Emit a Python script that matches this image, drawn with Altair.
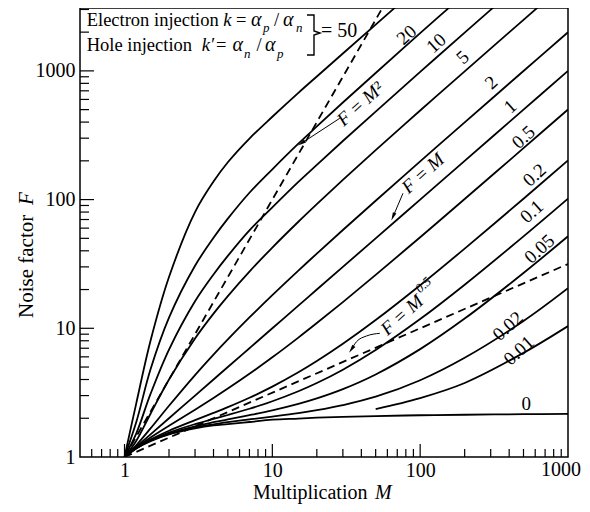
import altair as alt
import pandas as pd

SERIF = "Liberation Serif"

# ---------------- data ----------------
M_vals = [1, 1.2, 1.5, 2, 3, 4, 5, 7, 10, 15, 20, 30, 50, 100, 200, 500, 1000]

F_k0    = [1, 1.17, 1.33, 1.5, 1.67, 1.76, 1.8, 1.87, 1.95, 1.99, 2.02, 2.05, 2.08, 2.11, 2.13, 2.15, 2.16]
F_k0_01 = [None, None, None, None, None, None, None, None, None, None, None, None,
           2.36, 2.87, 3.76, 6.44, 10.4]
F_k0_02 = [1, 1.167, 1.337, 1.51, 1.693, 1.795, 1.864, 1.96, 2.06, 2.19, 2.31, 2.53, 2.94, 3.95, 5.9, 11.4, 20.5]
F_k0_05 = [1, 1.168, 1.342, 1.525, 1.733, 1.863, 1.96, 2.114, 2.305, 2.587, 2.853, 3.368, 4.38, 6.89, 11.9, 26.9, 51.9]
F_k0_1  = [1, 1.17, 1.35, 1.55, 1.8, 1.975, 2.12, 2.371, 2.71, 3.24, 3.755, 4.77, 6.78, 11.79, 21.8, 51.8, 101.8]
F_k0_2  = [1, 1.173, 1.367, 1.6, 1.933, 2.2, 2.44, 2.886, 3.52, 4.547, 5.56, 7.573, 11.58, 21.59, 41.6, 101.6, 201.6]
F_k0_5  = [1, 1.183, 1.417, 1.75, 2.333, 2.875, 3.4, 4.429, 5.95, 8.467, 10.98, 15.98, 25.99, 51.0, 101.0, 251.0, 501.0]
F_k1    = [1, 1.2, 1.5, 2, 3, 4, 5, 7, 10, 15, 20, 30, 50, 100, 200, 500, 1000]
F_k2    = [1, 1.233, 1.667, 2.5, 4.333, 6.25, 8.2, 12.14, 18.1, 28.07, 38.05, 58.03, 98.02, 198.0, 398.0, 998.0, 1998.0]
F_k5    = [1, 1.333, 2.167, 4.0, 8.333, 13.0, 17.8, 27.57, 42.4, 67.27, 92.2, 142.1, 242.1, 492.0, 992.0, 2492.0, 4992.0]
F_k10   = [1, 1.52, 3.09, 6.83, 16.2, 26.2, 36.5, 57.6, 87.0, 137.2, 186.1, 285.1, 482.2, 982.1, 1982.0, 4982.0, None]
F_k20   = [1, 1.86, 4.8, 12.1, 30.6, 50.5, 71.1, 113.0, 172.0, 272.0, 370.0, 568.0, 962.4, 1962.2, 3962.0, None, None]
F_k50   = [1, 2.6, 8.0, 25.0, 80.0, 138.0, 195.0, 298.0, 440.0, 675.0, 905.0, 1365.0, 2290.0, 4600.0, None, None, None]

k_names = ["0", "0.01", "0.02", "0.05", "0.1", "0.2", "0.5", "1", "2", "5", "10", "20", "50"]
k_series = [F_k0, F_k0_01, F_k0_02, F_k0_05, F_k0_1, F_k0_2, F_k0_5, F_k1, F_k2, F_k5, F_k10, F_k20, F_k50]

# dashed reference lines F = M^2 and F = M^0.5 (end points)
ref_names = ["M2", "M2", "M05", "M05"]
ref_M = [1, 60, 1, 1000]
ref_F = [1, 3600, 1, 31.6]

# curve labels (text, M, F)
lab_text = ["20", "10", "5", "2", "1", "0.5", "0.2", "0.1", "0.05", "0.02", "0.01"]
lab_M = [81, 128.6, 194.5, 303, 407, 500, 594, 569, 642, 392, 465]
lab_F = [1900, 1638, 1276, 809, 527, 305, 155, 80.5, 41.3, 10.4, 6.7]

# axis ticks
x_major = [1, 10, 100]
x_minor = [0.6, 0.7, 0.8, 0.9, 2, 3, 4, 5, 6, 7, 8, 9, 20, 30, 40, 50, 60, 70, 80, 90,
           200, 300, 400, 500, 600, 700, 800, 900]
y_major = [10, 100, 1000]
y_minor = [2, 3, 4, 5, 6, 7, 8, 9, 20, 30, 40, 50, 60, 70, 80, 90,
           200, 300, 400, 500, 600, 700, 800, 900, 2000, 3000]
x_tick_labels = [1, 10, 100]
x_last_label = [1000]
y_tick_labels = [1, 10, 100, 1000]

# arrows (M, F)
arr_id = ["a", "a", "b", "b", "c", "c", "c", "c"]
arr_ord = [0, 1, 0, 1, 0, 1, 2, 3]
arr_M = [28.6, 15.75, 76.5, 65.5, 53.3, 43.3, 37.1, 34.3]
arr_F = [428.5, 273.8, 111.9, 73.6, 9.14, 8.71, 7.87, 6.87]

# ---------------- chart ----------------
W, H = 488, 449
xs = alt.Scale(type="log", domain=[0.5, 1000], nice=False)
ys = alt.Scale(type="log", domain=[1, 3080], nice=False)
xax = alt.Axis(values=x_tick_labels, format="d", labelFont=SERIF, labelFontSize=20,
               labelColor="black", ticks=False, tickSize=0, domain=False, grid=False,
               title=None, labelPadding=3, labelFlush=False, labelOverlap=False)
yax = alt.Axis(values=y_tick_labels, format="d", labelFont=SERIF, labelFontSize=20,
               labelColor="black", ticks=False, tickSize=0, domain=False, grid=False,
               title=None, labelPadding=5, labelOverlap=False)

rows = []
for name, ser in zip(k_names, k_series):
    for m, f in zip(M_vals, ser):
        if f is not None:
            rows.append({"k": name, "M": m, "F": f})
curves_df = pd.DataFrame(rows)

curves = alt.Chart(curves_df).mark_line(
    color="black", strokeWidth=1.8, interpolate="catmull-rom", clip=True
).encode(
    x=alt.X("M:Q", scale=xs, axis=xax),
    y=alt.Y("F:Q", scale=ys, axis=yax),
    detail="k:N",
)

ref_df = pd.DataFrame({"s": ref_names, "M": ref_M, "F": ref_F})
dashed = alt.Chart(ref_df).mark_line(
    color="black", strokeWidth=1.8, strokeDash=[8, 5], clip=True
).encode(
    x=alt.X("M:Q", scale=xs, axis=xax),
    y=alt.Y("F:Q", scale=ys, axis=yax),
    detail="s:N",
)


def xticks(vals, length):
    return alt.Chart(pd.DataFrame({"M": vals})).mark_rule(color="black", strokeWidth=1.2).encode(
        x=alt.X("M:Q", scale=xs, axis=xax), y=alt.value(H), y2=alt.value(H - length))


def yticks(vals, length):
    return alt.Chart(pd.DataFrame({"F": vals})).mark_rule(color="black", strokeWidth=1.2).encode(
        y=alt.Y("F:Q", scale=ys, axis=yax), x=alt.value(0), x2=alt.value(length))


lab_df = pd.DataFrame({"t": lab_text, "M": lab_M, "F": lab_F})
labels = alt.Chart(lab_df).mark_text(
    font=SERIF, fontSize=19, angle=318, align="center", baseline="middle", color="black"
).encode(
    x=alt.X("M:Q", scale=xs, axis=xax), y=alt.Y("F:Q", scale=ys, axis=yax), text="t:N"
)

last_lab = alt.Chart(pd.DataFrame({"M": x_last_label, "t": ["1000"]})).mark_text(
    font=SERIF, fontSize=20, align="center", baseline="top", dx=-7, color="black"
).encode(x=alt.X("M:Q", scale=xs, axis=xax), y=alt.value(H + 3), text="t:N")


def dtext(s, m, f, size=19, italic=True, angle=318, dx=0, dy=0, align="center"):
    return alt.Chart(pd.DataFrame({"M": [m], "F": [f]})).mark_text(
        text=s, font=SERIF, fontSize=size, fontStyle="italic" if italic else "normal",
        angle=angle, align=align, baseline="middle", dx=dx, dy=dy, color="black"
    ).encode(x=alt.X("M:Q", scale=xs, axis=xax), y=alt.Y("F:Q", scale=ys, axis=yax))


dummy = alt.Data(values=[{"a": 1}])


def ptext(s, x, y, size=19, italic=False, angle=0, align="left"):
    return alt.Chart(dummy).mark_text(
        text=s, font=SERIF, fontSize=size, fontStyle="italic" if italic else "normal",
        angle=angle, align=align, baseline="alphabetic", color="black"
    ).encode(x=alt.value(x), y=alt.value(y))


arr_df = pd.DataFrame({"id": arr_id, "o": arr_ord, "M": arr_M, "F": arr_F})
arrows = alt.Chart(arr_df).mark_line(color="black", strokeWidth=1, interpolate="monotone").encode(
    x=alt.X("M:Q", scale=xs, axis=xax), y=alt.Y("F:Q", scale=ys, axis=yax),
    detail="id:N", order="o:Q")

HEAD = "M0,-1L0.45,1L-0.45,1Z"


def head(m, f, ang):
    return alt.Chart(pd.DataFrame({"M": [m], "F": [f]})).mark_point(
        shape=HEAD, filled=True, color="black", size=70, angle=ang, opacity=1
    ).encode(x=alt.X("M:Q", scale=xs, axis=xax), y=alt.Y("F:Q", scale=ys, axis=yax))


brace = alt.Chart(dummy).mark_point(
    shape="M-0.35,-1L0,-1L0,-0.2L0.3,-0.1L0,0L0,1L-0.35,1", filled=False,
    color="black", strokeWidth=1.4, size=1600, opacity=1
).encode(x=alt.value(234), y=alt.value(27))

LF = 18.5
layers = [
    xticks(x_minor, 8), xticks(x_major, 13), yticks(y_minor, 9), yticks(y_major, 14),
    curves, dashed, labels, last_lab,
    dtext("0", 522, 2.58, angle=0, italic=False),
    dtext("F = M\u00b2", 39.4, 553),
    dtext("F = M", 104.5, 160),
    dtext("F = M", 83.6, 14.1, align="left", dx=-34),
    dtext("0.5", 83.6, 14.1, size=13, align="left", dx=19, dy=-8),
    arrows,
    head(15.75, 273.8, 237), head(65.5, 73.6, 203), head(34.3, 6.87, 215),
    # legend box text
    ptext("Electron injection", 6.7, 17.5, size=LF),
    ptext("k", 143.3, 17.5, size=LF, italic=True),
    ptext("=", 156, 17.5, size=LF),
    ptext("\u03b1", 171, 17.5, size=20, italic=True),
    ptext("p", 183, 24, size=13, italic=True),
    ptext("/", 194, 17.5, size=LF),
    ptext("\u03b1", 203, 17.5, size=20, italic=True),
    ptext("n", 216, 24, size=13, italic=True),
    ptext("Hole injection", 6.7, 43.3, size=LF),
    ptext("k\u2032", 121.7, 43.3, size=LF, italic=True),
    ptext("=", 136, 43.3, size=LF),
    ptext("\u03b1", 152.5, 43.3, size=20, italic=True),
    ptext("n", 164, 49.8, size=13, italic=True),
    ptext("/", 176.5, 43.3, size=LF),
    ptext("\u03b1", 185, 43.3, size=20, italic=True),
    ptext("p", 197, 49.8, size=13, italic=True),
    brace,
    ptext("= 50", 241, 29.3, size=20),
    # axis titles
    ptext("Multiplication", 173, 491, size=20),
    ptext("M", 295, 491, size=20, italic=True),
    ptext("Noise factor", -47, 310, size=21, angle=270),
    ptext("F", -47, 197, size=21, angle=270, italic=True),
]

chart = alt.layer(*layers).properties(
    width=W, height=H,
    autosize=alt.AutoSizeParams(type="none"),
    padding={"left": 72, "top": 0, "right": 14, "bottom": 47},
    background="white",
).configure_view(stroke="black", strokeWidth=1.5)

chart.save("out.html", embed_options={"renderer": "svg", "actions": False})
